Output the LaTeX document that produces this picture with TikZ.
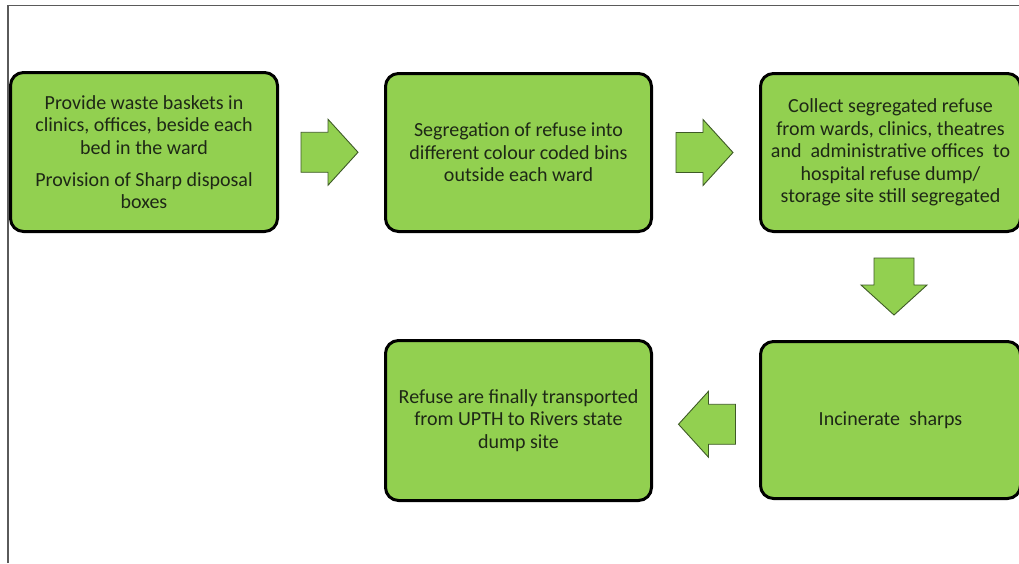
\documentclass[tikz,border=0pt]{standalone}
\usepackage{fontspec}
\setmainfont{Carlito}
\usetikzlibrary{calc}

\definecolor{boxgreen}{HTML}{92D050}
\definecolor{arrowedge}{HTML}{3E5A26}
\definecolor{textdark}{RGB}{30,40,22}
\definecolor{framegray}{RGB}{90,90,90}

\tikzset{
  stepbox/.style={draw=black, line width=3pt, fill=boxgreen, rounded corners=13pt,
    text=textdark, align=center, inner sep=0pt,
    font=\fontsize{20}{22.5}\selectfont},
  blockarrow/.style={draw=arrowedge, line width=0.9pt, fill=boxgreen, line join=miter},
  % block arrow pointing in +x direction, centred on the pic origin
  flowarrow/.pic={
    \path[blockarrow] (-28.5,-20) -- (-1.5,-20) -- (-1.5,-33) -- (28.5,0)
      -- (-1.5,33) -- (-1.5,20) -- (-28.5,20) -- cycle;
  }
}

\begin{document}
\begin{tikzpicture}[x=1pt, y=-1pt]
  \useasboundingbox (0,0) rectangle (1019,563);
  \fill[white] (0,0) rectangle (1019,563);

  % outer frame (top and left edges)
  \draw[framegray, line width=1.3pt] (8,563) -- (8,5.5) -- (1019,5.5);

  % process steps
  \node[stepbox, minimum width=267pt, minimum height=159pt] (b1) at (144,152)
    {Provide waste baskets in\\ clinics, offices, beside each\\ bed in the ward\\[9.5pt]
     Provision of Sharp disposal\\ boxes};
  \node[stepbox, minimum width=266pt, minimum height=158pt] (b2) at (518.5,152.5)
    {Segregation of refuse into\\ different colour coded bins\\ outside each\ ward};
  \node[stepbox, minimum width=260pt, minimum height=158pt] (b3) at (890.5,152.5)
    {Collect segregated refuse\\ from wards, clinics, theatres\\
     and\ \ administrative offices\ \ to\\ hospital refuse dump/\\ storage site still segregated};
  \node[stepbox, minimum width=260pt, minimum height=157pt] (b4) at (890.5,420)
    {Incinerate\ \ sharps};
  \node[stepbox, minimum width=266pt, minimum height=160pt] (b5) at (518.5,420.5)
    {Refuse are finally transported\\ from UPTH to Rivers state\\ dump site};

  % block arrows between the steps
  \coordinate (a12) at ($(b1.east)!0.5!(b2.west)+(-2,0)$);
  \coordinate (a23) at ($(b2.east)!0.5!(b3.west)+(-1.5,0)$);
  \coordinate (a34) at ($(b3.south)!0.5!(b4.north)+(3.5,0)$);
  \coordinate (a45) at ($(b4.west)!0.5!(b5.east)+(1,4)$);

  \pic at (a12) {flowarrow};
  \pic at (a23) {flowarrow};
  \pic[rotate=-90] at (a34) {flowarrow};
  \pic[rotate=180] at (a45) {flowarrow};
\end{tikzpicture}
\end{document}
